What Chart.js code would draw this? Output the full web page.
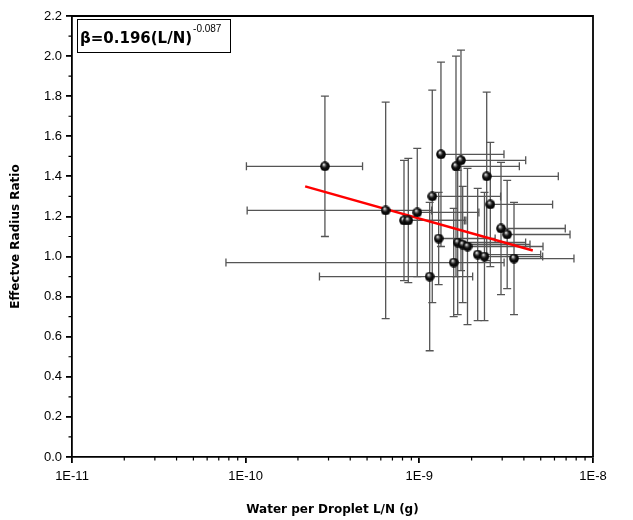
<!DOCTYPE html>
<html><head><meta charset="utf-8">
<script src="https://cdn.jsdelivr.net/npm/chart.js@4.4.1/dist/chart.umd.min.js"></script>
<style>html,body{margin:0;padding:0;background:#fff}</style>
</head><body>
<canvas id="c" width="633" height="520"></canvas>
<script>
// ---- data ----
const waterPerDroplet = [2.86e-10, 6.40e-10, 8.16e-10, 8.64e-10, 9.73e-10, 1.147e-9, 1.187e-9, 1.292e-9, 1.332e-9, 1.577e-9, 1.626e-9,
                         1.663e-9, 1.737e-9, 1.777e-9, 1.894e-9, 2.168e-9, 2.372e-9, 2.443e-9, 2.563e-9, 2.953e-9, 3.205e-9, 3.509e-9];
const radiusRatio     = [1.45, 1.23, 1.18, 1.18, 1.22, 0.90, 1.30, 1.09, 1.51, 0.97, 1.45,
                         1.07, 1.48, 1.06, 1.05, 1.01, 1.00, 1.40, 1.26, 1.14, 1.11, 0.99];
const waterErr        = [1.85e-10, 5.38e-10, 1.00e-9, 0.99e-9, 1.23e-9, 0.881e-9, 1.75e-9, 1.44e-9, 1.74e-9, 1.50e-9, 2.14e-9,
                         2.43e-9, 2.36e-9, 2.56e-9, 3.26e-9, 2.83e-9, 2.76e-9, 3.87e-9, 3.29e-9, 3.97e-9, 4.17e-9, 4.26e-9];
const ratioErr        = [0.35, 0.54, 0.30, 0.31, 0.32, 0.37, 0.53, 0.23, 0.46, 0.27, 0.55,
                         0.36, 0.55, 0.29, 0.39, 0.33, 0.32, 0.42, 0.31, 0.33, 0.27, 0.28];
const fitX = [2.2e-10, 4.5e-9];
const fitY = [1.35, 1.03];
const xTickValues = [1e-11, 1e-10, 1e-9, 1e-8];
const xTickLabels = ['1E-11', '1E-10', '1E-9', '1E-8'];
const xMinorMultipliers = [2, 3, 4, 5, 6, 7, 8, 9];
const yTickValues = [0, 0.2, 0.4, 0.6, 0.8, 1.0, 1.2, 1.4, 1.6, 1.8, 2.0, 2.2];
const yMinorValues = [0.1, 0.3, 0.5, 0.7, 0.9, 1.1, 1.3, 1.5, 1.7, 1.9, 2.1];
const xTitle = 'Water per Droplet L/N (g)';
const yTitle = 'Effectve Radius Ratio';
const fitLabel = 'β=0.196(L/N)';
const fitExponent = '-0.087';

// ---- sphere marker ----
function makeSphere(d) {
  const c = document.createElement('canvas'); c.width = d; c.height = d;
  const g = c.getContext('2d'); const r = d / 2;
  const grad = g.createRadialGradient(r * 0.75, r * 0.6, 0.3, r, r, r);
  grad.addColorStop(0, '#ffffff'); grad.addColorStop(0.22, '#777'); grad.addColorStop(0.5, '#111'); grad.addColorStop(1, '#000');
  g.fillStyle = grad; g.beginPath(); g.arc(r, r, r - 0.2, 0, Math.PI * 2); g.fill();
  return c;
}
const sphere = makeSphere(10);

const AXIS_W = 1.8;

const errorBars = {
  id: 'errorBars',
  beforeDatasetsDraw(chart) {
    const { ctx, scales: { x, y }, chartArea: a } = chart;
    ctx.save();
    ctx.beginPath(); ctx.rect(a.left, a.top, a.right - a.left, a.bottom - a.top); ctx.clip();
    ctx.strokeStyle = '#555'; ctx.lineWidth = 1.3;
    const cap = 4;
    waterPerDroplet.forEach((xv, i) => {
      const yv = radiusRatio[i];
      const px = x.getPixelForValue(xv), py = y.getPixelForValue(yv);
      const yt = y.getPixelForValue(yv + ratioErr[i]), yb = y.getPixelForValue(yv - ratioErr[i]);
      ctx.beginPath();
      ctx.moveTo(px, yt); ctx.lineTo(px, yb);
      ctx.moveTo(px - cap, yt); ctx.lineTo(px + cap, yt);
      ctx.moveTo(px - cap, yb); ctx.lineTo(px + cap, yb);
      const xr = x.getPixelForValue(xv + waterErr[i]);
      ctx.moveTo(px, py); ctx.lineTo(xr, py);
      ctx.moveTo(xr, py - cap); ctx.lineTo(xr, py + cap);
      const lo = xv - waterErr[i];
      if (lo > 0) {
        const xl = x.getPixelForValue(lo);
        ctx.moveTo(px, py); ctx.lineTo(xl, py);
        ctx.moveTo(xl, py - cap); ctx.lineTo(xl, py + cap);
      }
      ctx.stroke();
    });
    ctx.restore();
  }
};

const frameAndLegend = {
  id: 'frameAndLegend',
  afterDraw(chart) {
    const { ctx, scales: { x, y }, chartArea: a } = chart;
    ctx.save();
    ctx.strokeStyle = '#000'; ctx.lineWidth = AXIS_W;
    ctx.beginPath();
    ctx.moveTo(a.left, a.top); ctx.lineTo(a.right, a.top); ctx.lineTo(a.right, a.bottom);
    ctx.stroke();
    // minor ticks
    ctx.lineWidth = 1.2;
    ctx.beginPath();
    xTickValues.slice(0, -1).forEach(d => {
      xMinorMultipliers.forEach(m => {
        const px = x.getPixelForValue(d * m);
        ctx.moveTo(px, a.bottom); ctx.lineTo(px, a.bottom + 3.5);
      });
    });
    yMinorValues.forEach(v => {
      const py = y.getPixelForValue(v);
      ctx.moveTo(a.left, py); ctx.lineTo(a.left - 3.5, py);
    });
    ctx.stroke();
    // legend box
    const bx = a.left + 5, by = a.top + 3, bw = 153, bh = 33;
    ctx.lineWidth = 1;
    ctx.fillStyle = '#fff';
    ctx.fillRect(bx, by, bw, bh);
    ctx.strokeRect(bx + 0.5, by + 0.5, bw, bh);
    ctx.fillStyle = '#000';
    ctx.textBaseline = 'alphabetic'; ctx.textAlign = 'left';
    ctx.font = 'bold 15px "DejaVu Sans"';
    ctx.fillText(fitLabel, bx + 3, by + 24);
    const w = ctx.measureText(fitLabel).width;
    ctx.font = '10px "Liberation Sans"';
    ctx.fillText(fitExponent, bx + 4 + w, by + 13);
    ctx.restore();
  }
};

new Chart(document.getElementById('c'), {
  type: 'scatter',
  data: {
    datasets: [
      {
        data: waterPerDroplet.map((v, i) => ({ x: v, y: radiusRatio[i] })),
        pointStyle: sphere, pointRadius: 5, showLine: false, order: 0
      },
      {
        data: fitX.map((v, i) => ({ x: v, y: fitY[i] })),
        showLine: true, borderColor: '#ff0000', borderWidth: 2.5, pointRadius: 0, order: 1
      }
    ]
  },
  options: {
    responsive: false, animation: false, devicePixelRatio: 1,
    layout: { padding: { left: 0, right: 40, top: 16, bottom: 0 } },
    plugins: { legend: { display: false }, tooltip: { enabled: false } },
    scales: {
      x: {
        type: 'logarithmic', min: 1e-11, max: 1e-8,
        afterBuildTicks: s => { s.ticks = xTickValues.map(v => ({ value: v })); },
        afterFit: s => { s.height = 63; },
        ticks: {
          autoSkip: false, maxRotation: 0, padding: 6, color: '#000',
          font: { family: '"Liberation Sans", Arial', size: 13 },
          callback: (v, i) => xTickLabels[i]
        },
        grid: { drawOnChartArea: false, drawTicks: true, tickLength: 6, color: '#000', lineWidth: AXIS_W },
        border: { display: true, color: '#000', width: AXIS_W },
        title: {
          display: true, text: xTitle, color: '#000',
          font: { family: '"DejaVu Sans"', size: 12, weight: 'bold' },
          padding: { top: 0, bottom: 3 }
        }
      },
      y: {
        type: 'linear', min: 0, max: 2.2,
        afterBuildTicks: s => { s.ticks = yTickValues.map(v => ({ value: v })); },
        afterFit: s => { s.width = 72; },
        ticks: {
          autoSkip: false, padding: 4, color: '#000',
          font: { family: '"Liberation Sans", Arial', size: 13 },
          callback: v => Number(v).toFixed(1)
        },
        grid: { drawOnChartArea: false, drawTicks: true, tickLength: 6, color: '#000', lineWidth: AXIS_W },
        border: { display: true, color: '#000', width: AXIS_W },
        title: {
          display: true, text: yTitle, color: '#000',
          font: { family: '"DejaVu Sans"', size: 12, weight: 'bold' },
          padding: { top: 9, bottom: 0 }
        }
      }
    }
  },
  plugins: [errorBars, frameAndLegend]
});
</script>
</body></html>
